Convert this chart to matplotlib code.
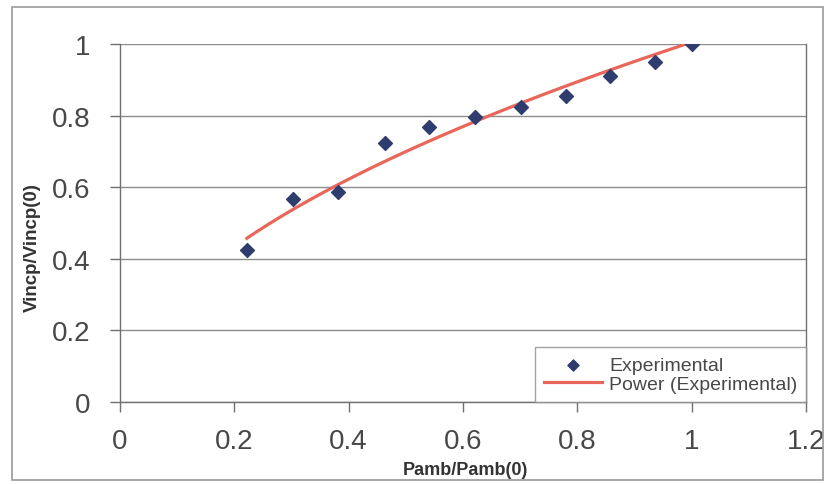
import numpy as np
import matplotlib
matplotlib.use('Agg')
import matplotlib.pyplot as plt
from matplotlib.patches import Rectangle

plt.rcParams['font.family'] = ['Liberation Sans', 'DejaVu Sans']

# Experimental points
p_ratio = [0.222, 0.303, 0.381, 0.463, 0.541, 0.621, 0.701, 0.780, 0.857, 0.936, 1.0]
v_ratio = [0.425, 0.567, 0.587, 0.723, 0.768, 0.796, 0.825, 0.855, 0.911, 0.950, 1.0]

x_ticks = [0, 0.2, 0.4, 0.6, 0.8, 1, 1.2]
x_labels = ['0', '0.2', '0.4', '0.6', '0.8', '1', '1.2']
y_ticks = [0, 0.2, 0.4, 0.6, 0.8, 1]
y_labels = ['0', '0.2', '0.4', '0.6', '0.8', '1']

# Power trendline y = a * x^b, fitted in log space like Excel does
b, log_a = np.polyfit(np.log(p_ratio), np.log(v_ratio), 1)
xs = np.linspace(min(p_ratio), max(p_ratio), 100)
ys = np.exp(log_a) * xs ** b

fig = plt.figure(figsize=(8.28, 4.85), dpi=100)
ax = fig.add_axes([0.1449, 0.1691, 0.8285, 0.7381])

# outer chart frame
fig.patches.append(Rectangle((0.014, 0.008), 0.98, 0.975, transform=fig.transFigure,
                             fill=False, edgecolor='#9a9a9a', linewidth=1.2))

ax.scatter(p_ratio, v_ratio, marker='D', s=50, color='#2f3d6e', zorder=3,
           label='Experimental')
ax.plot(xs, ys, color='#e8675a', linewidth=2.3, zorder=2, label='Power (Experimental)')

ax.set_xlim(0, 1.2)
ax.set_ylim(0, 1)
ax.set_xticks(x_ticks)
ax.set_xticklabels(x_labels)
ax.set_yticks(y_ticks)
ax.set_yticklabels(y_labels)

ax.grid(axis='y', color='#8c8c8c', linewidth=1.0)
ax.set_axisbelow(True)
for s in ['left', 'bottom', 'right']:
    ax.spines[s].set_color('#707070')
    ax.spines[s].set_linewidth(1.0)
ax.spines['top'].set_visible(False)

ax.tick_params(axis='both', direction='out', length=7, width=1.0, color='#707070',
               labelsize=20, labelcolor='#484848')
ax.tick_params(axis='x', pad=12)
ax.tick_params(axis='y', pad=14)

ax.set_xlabel('Pamb/Pamb(0)', fontsize=13, fontweight='bold', color='#333333')
ax.xaxis.set_label_coords(0.503, -0.165)
ax.set_ylabel('Vincp/Vincp(0)', fontsize=13.5, fontweight='bold', color='#333333')
ax.yaxis.set_label_coords(-0.115, 0.435)

leg = ax.legend(loc='lower right', fontsize=14, frameon=True, fancybox=False,
                borderaxespad=0, handlelength=3.0, handletextpad=0.35,
                borderpad=0.45, labelspacing=0.1, markerscale=0.8)
leg.get_frame().set_edgecolor('#8c8c8c')
leg.get_frame().set_linewidth(1.0)
for t in leg.get_texts():
    t.set_color('#484848')

fig.savefig('out.png', dpi=100)
